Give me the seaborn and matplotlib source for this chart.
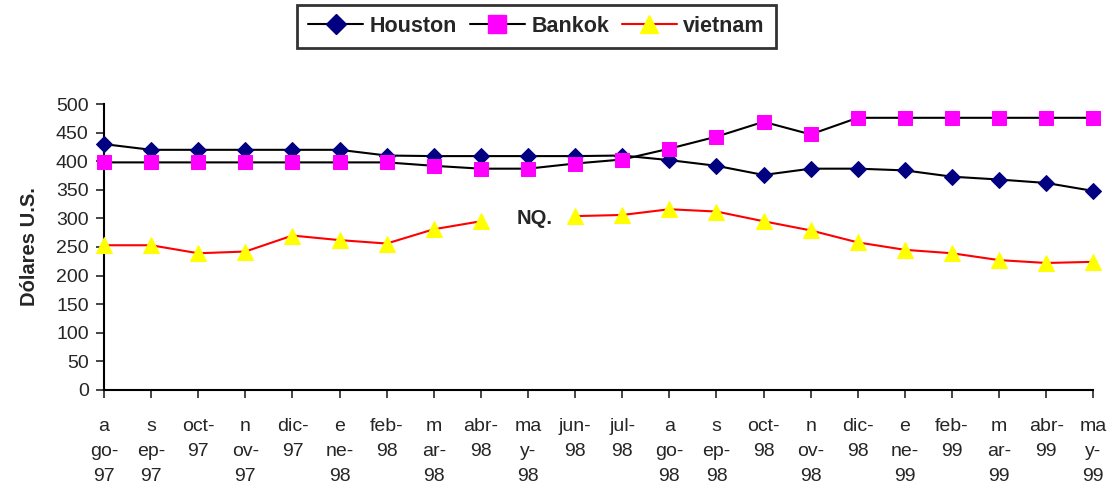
import matplotlib
matplotlib.use("Agg")
import matplotlib.pyplot as plt
import seaborn as sns
import numpy as np
import pandas as pd
from matplotlib.lines import Line2D

months = ["ago-97", "sep-97", "oct-97", "nov-97", "dic-97", "ene-98", "feb-98",
          "mar-98", "abr-98", "may-98", "jun-98", "jul-98", "ago-98", "sep-98",
          "oct-98", "nov-98", "dic-98", "ene-99", "feb-99", "mar-99", "abr-99",
          "may-99"]
tick_labels = ["a\ngo-\n97", "s\nep-\n97", "oct-\n97", "n\nov-\n97", "dic-\n97",
               "e\nne-\n98", "feb-\n98", "m\nar-\n98", "abr-\n98", "ma\ny-\n98",
               "jun-\n98", "jul-\n98", "a\ngo-\n98", "s\nep-\n98", "oct-\n98",
               "n\nov-\n98", "dic-\n98", "e\nne-\n99", "feb-\n99", "m\nar-\n99",
               "abr-\n99", "ma\ny-\n99"]

houston = [430, 420, 420, 420, 420, 420, 410, 409, 409, 409, 409, 410,
           402, 392, 376, 387, 387, 384, 373, 368, 362, 348]
bankok = [398, 398, 398, 398, 398, 398, 398, 392, 387, 387, 396, 403,
          422, 443, 469, 447, 476, 476, 476, 476, 476, 476]
vietnam = [253, 253, 239, 242, 270, 262, 256, 281, 295, np.nan, 304, 306,
           316, 312, 295, 279, 258, 245, 239, 227, 222, 224]

df = pd.DataFrame({"pos": np.arange(len(months)), "mes": months,
                   "Houston": houston, "Bankok": bankok, "vietnam": vietnam})
# segment id so the vietnam line breaks at the missing month
df["seg"] = df["vietnam"].isna().cumsum()

sns.set_style("white")
plt.rcParams["font.family"] = ["Liberation Sans", "DejaVu Sans"]

fig = plt.figure(figsize=(11.16, 4.91), dpi=100)
ax = fig.add_axes([0.0932, 0.206, 0.8865, 0.582])

sns.lineplot(data=df, x="pos", y="Houston", ax=ax, color="black", lw=1.5,
             marker="D", markersize=8.5, markerfacecolor="#000080",
             markeredgecolor="#000080", zorder=3, clip_on=False)
sns.lineplot(data=df, x="pos", y="Bankok", ax=ax, color="black", lw=1.5,
             marker="s", markersize=10.5, markerfacecolor="#FF00FF",
             markeredgecolor="#FF00FF", zorder=3, clip_on=False)
viet = df.dropna(subset=["vietnam"])
sns.lineplot(data=viet, x="pos", y="vietnam", units="seg", estimator=None,
             ax=ax, color="red", lw=1.5, marker="^", markersize=11,
             markerfacecolor="#FFFF00", markeredgecolor="#FFFF00", zorder=3,
             clip_on=False)

ax.text(9.15, 300, "NQ.", fontsize=14.5, fontweight="bold", ha="center", va="center")

ax.set_xlim(0, len(months) - 1)
ax.set_ylim(0, 500)
ax.set_yticks(np.arange(0, 501, 50))
ax.set_xticks(df["pos"])
ax.set_xticklabels(tick_labels, fontsize=14, linespacing=1.62)
ax.tick_params(axis="y", labelsize=14, direction="out", length=6, width=1.2,
               left=True, pad=5)
ax.tick_params(axis="x", direction="out", length=6, width=1.2,
               bottom=True, pad=14)
ax.set_xlabel("")
ax.set_ylabel("Dólares U.S.", fontsize=14.5, fontweight="bold", labelpad=12)

for side in ["top", "right"]:
    ax.spines[side].set_visible(False)
for side in ["left", "bottom"]:
    ax.spines[side].set_color("black")
    ax.spines[side].set_linewidth(1.5)

handles = [
    Line2D([], [], color="black", lw=1.5, marker="D", markersize=10,
           markerfacecolor="#000080", markeredgecolor="#000080"),
    Line2D([], [], color="black", lw=1.5, marker="s", markersize=13,
           markerfacecolor="#FF00FF", markeredgecolor="#FF00FF"),
    Line2D([], [], color="red", lw=1.5, marker="^", markersize=13,
           markerfacecolor="#FFFF00", markeredgecolor="#FFFF00"),
]
leg = fig.legend(handles, ["Houston", "Bankok", "vietnam"], loc="center",
                 bbox_to_anchor=(0.4808, 0.946), ncol=3, frameon=True,
                 fancybox=False, edgecolor="black", handlelength=2.55,
                 handletextpad=0.3, columnspacing=0.6, borderpad=0.5,
                 prop={"size": 15.5, "weight": "bold"})
leg.get_frame().set_linewidth(2)

fig.savefig("out.png", dpi=100)
